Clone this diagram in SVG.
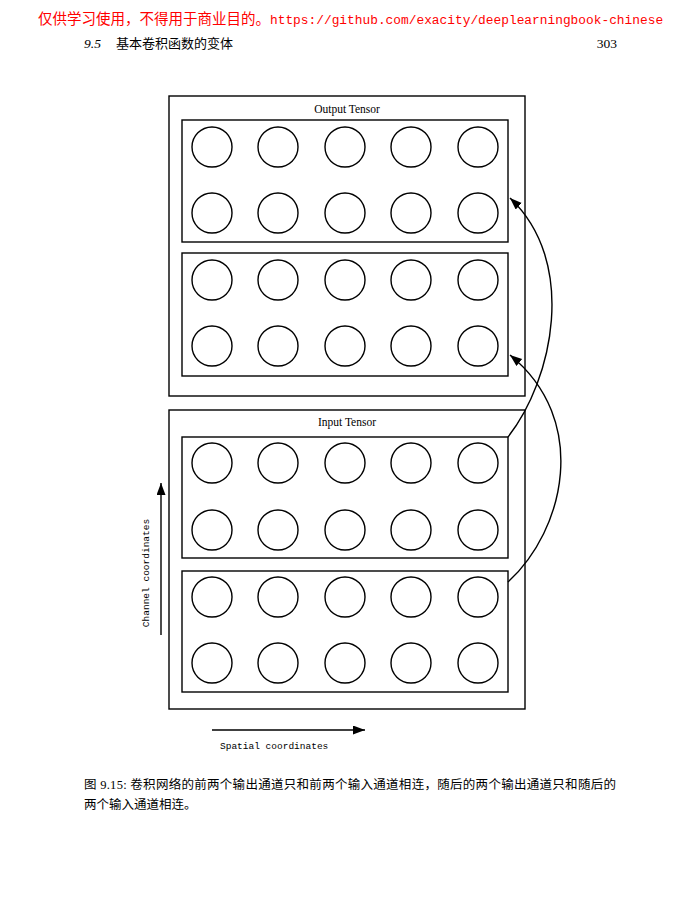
<svg xmlns="http://www.w3.org/2000/svg" width="700" height="900" viewBox="0 0 700 900">
<style>
  .box{fill:none;stroke:#000;stroke-width:1.4}
  .c{fill:none;stroke:#000;stroke-width:1.4}
  .lbl{font-family:"Liberation Serif",serif;font-size:11.5px;text-anchor:middle}
  .mono{font-family:"Liberation Mono",monospace;font-size:9.5px}
  .conn{fill:none;stroke:#000;stroke-width:1.4}
  .cjk{font-family:"Liberation Serif","Noto Sans CJK SC",serif}
</style>
<defs>
  <marker id="ah" markerWidth="14" markerHeight="10" refX="12" refY="4.5" orient="auto" markerUnits="userSpaceOnUse">
    <path d="M0,0 L12,4.5 L0,9 Z" fill="#000"/>
  </marker>
  <g id="row">
    <circle cx="212" cy="0" r="20" class="c"/>
    <circle cx="278" cy="0" r="20" class="c"/>
    <circle cx="345" cy="0" r="20" class="c"/>
    <circle cx="411" cy="0" r="20" class="c"/>
    <circle cx="478" cy="0" r="20" class="c"/>
  </g>
</defs>
<rect width="700" height="900" fill="#fff"/>

<g id="header">
  <text x="38" y="24" fill="#f00" font-size="14.5" font-family="Noto Sans CJK SC,sans-serif">仅供学习使用，不得用于商业目的。<tspan font-family="Liberation Mono,monospace" font-size="12.85">https://github.com/exacity/deeplearningbook-chinese</tspan></text>
  <text x="84" y="48" font-size="13.5" font-family="Liberation Serif,serif"><tspan font-style="italic">9.5</tspan><tspan x="116" font-size="13" font-family="Noto Sans CJK SC,serif">基本卷积函数的变体</tspan></text>
  <text x="617" y="48" font-size="13.5" font-family="Liberation Serif,serif" text-anchor="end">303</text>
</g>

<g id="output-tensor">
  <rect x="169" y="96" width="356" height="300" class="box"/>
  <text x="347" y="113" class="lbl">Output Tensor</text>
  <g id="out-ch1">
    <rect x="182" y="120" width="326" height="122" class="box"/>
    <use href="#row" y="147"/>
    <use href="#row" y="213"/>
  </g>
  <g id="out-ch2">
    <rect x="182" y="253" width="326" height="123" class="box"/>
    <use href="#row" y="280"/>
    <use href="#row" y="346"/>
  </g>
</g>

<g id="input-tensor">
  <rect x="169" y="410" width="356" height="299" class="box"/>
  <text x="347" y="426" class="lbl">Input Tensor</text>
  <g id="in-ch1">
    <rect x="182" y="437" width="326" height="121" class="box"/>
    <use href="#row" y="463"/>
    <use href="#row" y="530"/>
  </g>
  <g id="in-ch2">
    <rect x="182" y="571" width="326" height="121" class="box"/>
    <use href="#row" y="597"/>
    <use href="#row" y="663"/>
  </g>
</g>

<g id="connectors">
  <path d="M508,437 C553,380 578,262 510,198" class="conn" marker-end="url(#ah)"/>
  <path d="M508,582 C565,530 590,420 510,355" class="conn" marker-end="url(#ah)"/>
  <path d="M161,635 L161,483" class="conn" marker-end="url(#ah)"/>
  <path d="M212,730 L365,730" class="conn" marker-end="url(#ah)"/>
</g>

<g id="axis-labels">
  <text transform="translate(149,573) rotate(-90)" class="mono" text-anchor="middle">Channel coordinates</text>
  <text x="220" y="749" class="mono">Spatial coordinates</text>
</g>

<g id="caption" font-size="12.5" font-family="Liberation Serif,Noto Sans CJK SC,serif">
  <text x="84" y="789" textLength="532" lengthAdjust="spacing">图 9.15: 卷积网络的前两个输出通道只和前两个输入通道相连，随后的两个输出通道只和随后的</text>
  <text x="84" y="809">两个输入通道相连。</text>
</g>
</svg>
